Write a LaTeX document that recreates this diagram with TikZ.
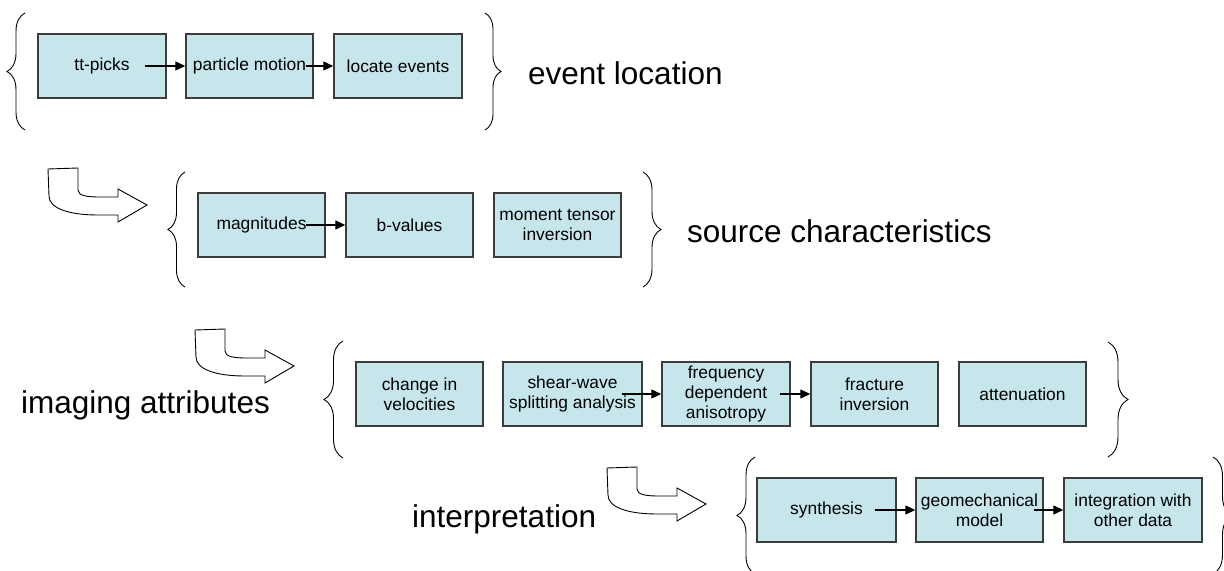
\documentclass[tikz,border=0pt]{standalone}
\usepackage{fontspec}
\setmainfont{Liberation Sans}
\usetikzlibrary{arrows.meta}
\usetikzlibrary{decorations.pathreplacing}

\definecolor{boxfill}{RGB}{198,230,235}
\definecolor{boxline}{RGB}{60,60,60}

\tikzset{
  stepbox/.style={draw=boxline, fill=boxfill, line width=1.4bp, inner sep=0pt,
    minimum height=64bp, align=center, font=\fontsize{17.4bp}{20bp}\selectfont},
  flow/.style={-{Triangle[length=10bp,width=9bp]}, line width=1.2bp},
  heading/.style={anchor=base west, inner sep=0pt, font=\fontsize{31.5bp}{36bp}\selectfont},
  grouper/.style={decorate, decoration={brace, amplitude=#1}, line width=0.9bp},
  pics/bendarrow/.style={code={
    \draw[line width=0.9bp, fill=white]
      (0,1) -- (30,0) -- (30,22) .. controls (30,28) and (40,29) .. (52,29)
      -- (70,29) -- (70,21) -- (99,37) -- (70,54) -- (70,47) -- (50,47)
      .. controls (20,47) and (1,40) .. (1,28) -- cycle;
  }}
}

\begin{document}
\begin{tikzpicture}[x=1bp, y=-1bp]
        \clip (0,0) rectangle (1224,571);
        % the four groups of steps
        \foreach \n/\cx/\cy/\w/\t in {%
          ttpicks/102/66/128/tt-picks,
          particle/249.5/66/127/particle motion,
          locate/398/66/128/locate events,
          magnitudes/261.5/225/127/magnitudes,
          bvalues/409.5/225/127/b-values,
          moment/557.5/225/127/{moment tensor\\inversion},
          change/419.5/394/127/{change in\\velocities},
          shear/572.5/394/139/{shear-wave\\splitting analysis},
          freq/726/394/128/{frequency\\dependent\\anisotropy},
          fracture/874.5/394/127/{fracture\\inversion},
          atten/1022.5/394/127/attenuation,
          synth/826.5/510/139/synthesis,
          geomech/979.5/510/127/{geomechanical\\model},
          integr/1133/510/138/{integration with\\other data}} {
            \node[stepbox, minimum width=\w bp] (\n) at (\cx,\cy) {\t};
        }
        \draw[flow] ([xshift=-22bp]ttpicks.east) -- (particle.west);
        \draw[flow] ([xshift=-8bp]particle.east) -- (locate.west);
        \draw[flow] ([xshift=-20bp]magnitudes.east) -- (bvalues.west);
        \draw[flow] ([xshift=-21bp]shear.east) -- (freq.west);
        \draw[flow] ([xshift=-11bp]freq.east) -- (fracture.west);
        \draw[flow] ([xshift=-22bp]synth.east) -- (geomech.west);
        \draw[flow] ([xshift=-10bp]geomech.east) -- (integr.west);
        % braces
        \draw[grouper=18bp] (25,130) -- (25,13);
        \draw[grouper=16bp] (485,13) -- (485,130);
        \draw[grouper=17bp] (185,287) -- (185,172);
        \draw[grouper=18bp] (643,172) -- (643,287);
        \draw[grouper=19bp] (343,458) -- (343,341);
        \draw[grouper=20bp] (1108,342) -- (1108,457);
        \draw[grouper=18bp] (755,574) -- (755,457);
        \draw[grouper=19bp] (1213,457) -- (1213,574);
        % bent arrows between the groups
        \pic at (48,168) {bendarrow};
        \pic at (195,329) {bendarrow};
        \pic at (607,467) {bendarrow};
        % group names
        \node[heading] (evloc) at (528,85) {event location};
        \node[heading] (srcchar) at (687,243) {source characteristics};
        \node[heading] (imgattr) at (21,413) {imaging attributes};
        \node[heading] (interp) at (412,527) {interpretation};
\end{tikzpicture}
\end{document}
